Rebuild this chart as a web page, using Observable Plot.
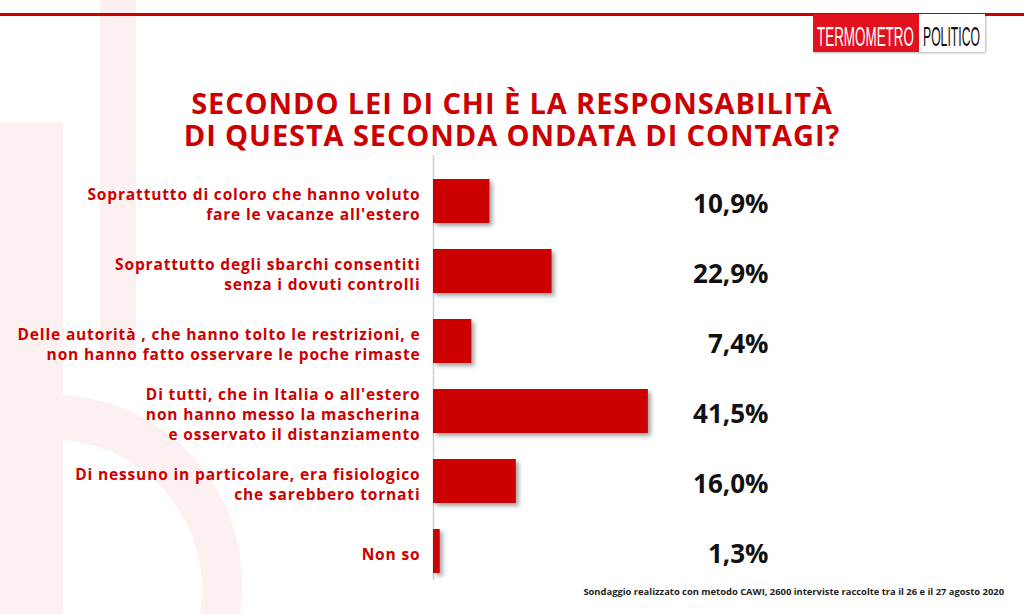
<!DOCTYPE html>
<html><head><meta charset="utf-8">
<script src="https://cdn.jsdelivr.net/npm/d3@7"></script>
<script src="https://cdn.jsdelivr.net/npm/@observablehq/plot@0.6"></script>
<style>
body{margin:0;background:#fff;}
#wrap{position:relative;width:1024px;height:614px;overflow:hidden;font-family:"Open Sans",sans-serif;}
#bg,#chart,#top{position:absolute;left:0;top:0}
.title{position:absolute;left:0;width:1024px;text-align:center;color:#cc0000;font-weight:700;font-size:29px;line-height:30px;letter-spacing:0.9px}
#caption{position:absolute;right:20px;top:585px;font-size:9.4px;font-weight:700;color:#222}
</style></head>
<body>
<div id="wrap">
<svg id="bg" width="1024" height="614">
  <g fill="#fcf0f1">
    <rect x="100" y="0" width="36" height="356"/>
    <rect x="0" y="122" width="63" height="492"/>
    <path d="M63,395 A190,190 0 0 1 240,614 L200,614 A150,150 0 0 0 63,440 Z"/>
  </g>
</svg>
<div id="chart"></div>
<svg id="top" width="1024" height="60">
  <rect x="0" y="13" width="1024" height="3" fill="#cc0000"/>
  <rect x="813" y="14" width="172" height="38" fill="#fff" style="filter:drop-shadow(1px 1px 1px rgba(0,0,0,0.3))"/>
  <rect x="813" y="14" width="106" height="38" fill="#e3101e"/>
  <text id="logo1" data-x="817" data-w="97" y="46" fill="#fff" font-family="Liberation Sans Narrow, Liberation Sans, sans-serif" font-size="28">TERMOMETRO</text>
  <text id="logo2" data-x="923" data-w="57" y="46" fill="#111" font-family="Liberation Sans Narrow, Liberation Sans, sans-serif" font-size="28">POLITICO</text>
</svg>
<div class="title" style="top:88px">SECONDO LEI DI CHI È LA RESPONSABILITÀ</div>
<div class="title" style="top:120px">DI QUESTA SECONDA ONDATA DI CONTAGI?</div>
<div id="caption">Sondaggio realizzato con metodo CAWI, 2600 interviste raccolte tra il 26 e il 27 agosto 2020</div>
</div>
<script>
const categories = [
  "Soprattutto di coloro che hanno voluto\nfare le vacanze all'estero",
  "Soprattutto degli sbarchi consentiti\nsenza i dovuti controlli",
  "Delle autorità , che hanno tolto le restrizioni, e\nnon hanno fatto osservare le poche rimaste",
  "Di tutti, che in Italia o all'estero\nnon hanno messo la mascherina\ne osservato il distanziamento",
  "Di nessuno in particolare, era fisiologico\nche sarebbero tornati",
  "Non so"
];
const values = [10.9, 22.9, 7.4, 41.5, 16.0, 1.3];
const valueLabels = ["10,9%", "22,9%", "7,4%", "41,5%", "16,0%", "1,3%"];

const data = categories.map((c, i) => ({category: c, value: values[i], label: valueLabels[i]}));

const plot = Plot.plot({
  width: 1024,
  height: 614,
  marginLeft: 433,
  marginRight: 256,
  marginTop: 155,
  marginBottom: 34,
  x: {domain: [0, 64.7], axis: null},
  y: {domain: categories, range: [166, 586], paddingInner: 0.37, paddingOuter: 0.185, axis: null},
  style: {background: "transparent", fontFamily: "Open Sans, sans-serif", overflow: "visible"},
  marks: [
    Plot.ruleX([0], {stroke: "#d0d0d0", strokeWidth: 1.5}),
    Plot.barX(data, {x: "value", y: "category", fill: "#cc0000"}),
    Plot.text(data, {x: 0, y: "category", text: "category", textAnchor: "end", dx: -13, dy: 2, fill: "#cc0000", fontSize: 15.5, fontWeight: 700, lineHeight: 1.3}),
    Plot.text(data, {frameAnchor: "right", y: "category", text: "label", textAnchor: "end", dy: 3, fontSize: 26, fontWeight: 700, fill: "#111"})
  ]
});
plot.querySelectorAll('g[aria-label="bar"]').forEach(g => g.style.filter = "drop-shadow(3px 3px 2px rgba(0,0,0,0.35))");
const textGroups = plot.querySelectorAll('g[aria-label="text"]');
textGroups[0].style.letterSpacing = "0.85px";
document.getElementById("chart").appendChild(plot);

// condense logo words to fit their boxes
["logo1", "logo2"].forEach(id => {
  const t = document.getElementById(id);
  const w = t.getComputedTextLength();
  const x = +t.dataset.x, target = +t.dataset.w;
  t.setAttribute("transform", `translate(${x},0) scale(${target / w},1)`);
});
</script>
</body></html>
